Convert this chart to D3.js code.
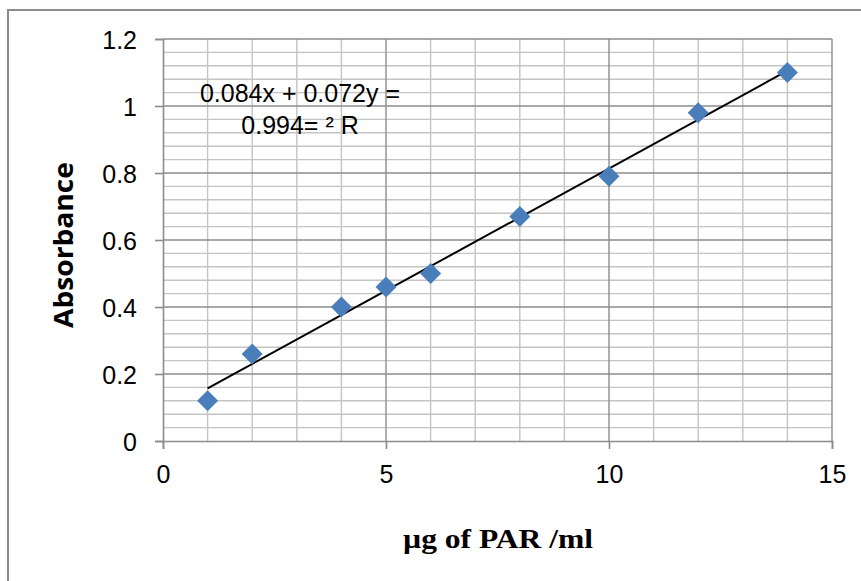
<!DOCTYPE html>
<html>
<head>
<meta charset="utf-8">
<script src="https://cdn.jsdelivr.net/npm/d3@7"></script>
<style>
  body { margin: 0; background: #fff; }
  svg { display: block; }
</style>
</head>
<body>
<svg width="861" height="581"></svg>
<script>
// data
var concentration = [1, 2, 4, 5, 6, 8, 10, 12, 14];
var absorbance = [0.12, 0.26, 0.40, 0.46, 0.50, 0.67, 0.79, 0.98, 1.10];
var xTicks = [0, 5, 10, 15];
var yTicks = [0, 0.2, 0.4, 0.6, 0.8, 1, 1.2];
var equationLines = ["0.084x + 0.072y =", "0.994= \u00B2 R"];

var svg = d3.select("svg");

var plotLeft = 163, plotRight = 832, plotTop = 39, plotBottom = 441;

var x = d3.scaleLinear().domain([0, 15]).range([plotLeft, plotRight]);
var y = d3.scaleLinear().domain([0, 1.2]).range([plotBottom, plotTop]);

// outer chart border
svg.append("rect")
    .attr("x", 8).attr("y", 10)
    .attr("width", 870).attr("height", 600)
    .attr("fill", "none")
    .attr("stroke", "#8c8c8c")
    .attr("stroke-width", 2);

// minor grid
var g = svg.append("g");
g.selectAll(".vminor")
    .data(d3.range(1, 15).filter(function(d) { return d % 5 != 0; }))
  .enter().append("line")
    .attr("x1", function(d) { return x(d); })
    .attr("x2", function(d) { return x(d); })
    .attr("y1", plotTop).attr("y2", plotBottom)
    .attr("stroke", "#c4c4c4").attr("stroke-width", 1.4);

g.selectAll(".hminor")
    .data(d3.range(1, 30).filter(function(d) { return d % 5 != 0; }).map(function(d) { return d * 0.04; }))
  .enter().append("line")
    .attr("x1", plotLeft).attr("x2", plotRight)
    .attr("y1", function(d) { return y(d); })
    .attr("y2", function(d) { return y(d); })
    .attr("stroke", "#c4c4c4").attr("stroke-width", 1.4);

// major grid
g.selectAll(".vmajor")
    .data(xTicks.slice(1))
  .enter().append("line")
    .attr("x1", function(d) { return x(d); })
    .attr("x2", function(d) { return x(d); })
    .attr("y1", plotTop).attr("y2", plotBottom)
    .attr("stroke", "#8c8c8c").attr("stroke-width", 1.4);

g.selectAll(".hmajor")
    .data(yTicks.slice(1))
  .enter().append("line")
    .attr("x1", plotLeft).attr("x2", plotRight)
    .attr("y1", function(d) { return y(d); })
    .attr("y2", function(d) { return y(d); })
    .attr("stroke", "#8c8c8c").attr("stroke-width", 1.4);

// axes
var xAxis = svg.append("g")
    .attr("transform", "translate(0," + plotBottom + ")")
    .call(d3.axisBottom(x).tickValues(xTicks).tickSize(8).tickPadding(16).tickFormat(d3.format("d")));

var yAxis = svg.append("g")
    .attr("transform", "translate(" + plotLeft + ",0)")
    .call(d3.axisLeft(y).tickValues(yTicks).tickSize(8).tickPadding(18).tickFormat(function(d) { return String(+d.toFixed(1)); }));

[xAxis, yAxis].forEach(function(a) {
  a.select(".domain").attr("stroke", "#8c8c8c").attr("stroke-width", 1.6);
  a.selectAll(".tick line").attr("stroke", "#8c8c8c").attr("stroke-width", 1.6);
  a.selectAll("text")
      .attr("fill", "#000")
      .style("font-family", "Liberation Sans, Arial, sans-serif")
      .style("font-size", "25px");
});
yAxis.selectAll("text").attr("dy", "0.36em");

// trendline (least squares)
var mx = d3.mean(concentration), my = d3.mean(absorbance);
var sxy = d3.sum(concentration, function(d, i) { return (d - mx) * (absorbance[i] - my); });
var sxx = d3.sum(concentration, function(d) { return (d - mx) * (d - mx); });
var slope = sxy / sxx, intercept = my - slope * mx;
var x0 = d3.min(concentration), x1 = d3.max(concentration);

svg.append("line")
    .attr("x1", x(x0)).attr("y1", y(intercept + slope * x0))
    .attr("x2", x(x1)).attr("y2", y(intercept + slope * x1))
    .attr("stroke", "#000").attr("stroke-width", 2);

// markers
svg.selectAll(".pt")
    .data(concentration)
  .enter().append("path")
    .attr("d", "M0,-10.5L10.5,0L0,10.5L-10.5,0Z")
    .attr("transform", function(d, i) { return "translate(" + x(d) + "," + y(absorbance[i]) + ")"; })
    .attr("fill", "#4a7ebb");

// equation label
svg.selectAll(".eq")
    .data(equationLines)
  .enter().append("text")
    .attr("x", 300)
    .attr("y", function(d, i) { return 102 + i * 32; })
    .attr("text-anchor", "middle")
    .style("font-family", "Liberation Sans, Arial, sans-serif")
    .style("font-size", "25px")
    .text(function(d) { return d; });

// axis titles
svg.append("text")
    .attr("transform", "translate(73,245) rotate(-90)")
    .attr("text-anchor", "middle")
    .attr("textLength", 166)
    .attr("lengthAdjust", "spacingAndGlyphs")
    .style("font-family", "Open Sans, sans-serif")
    .style("font-weight", "bold")
    .style("font-size", "27px")
    .text("Absorbance");

svg.append("text")
    .attr("x", 498).attr("y", 548)
    .attr("text-anchor", "middle")
    .attr("textLength", 190)
    .attr("lengthAdjust", "spacingAndGlyphs")
    .style("font-family", "Liberation Serif, Times New Roman, serif")
    .style("font-weight", "bold")
    .style("font-size", "28px")
    .text("\u00B5g of PAR /ml");
</script>
</body>
</html>
